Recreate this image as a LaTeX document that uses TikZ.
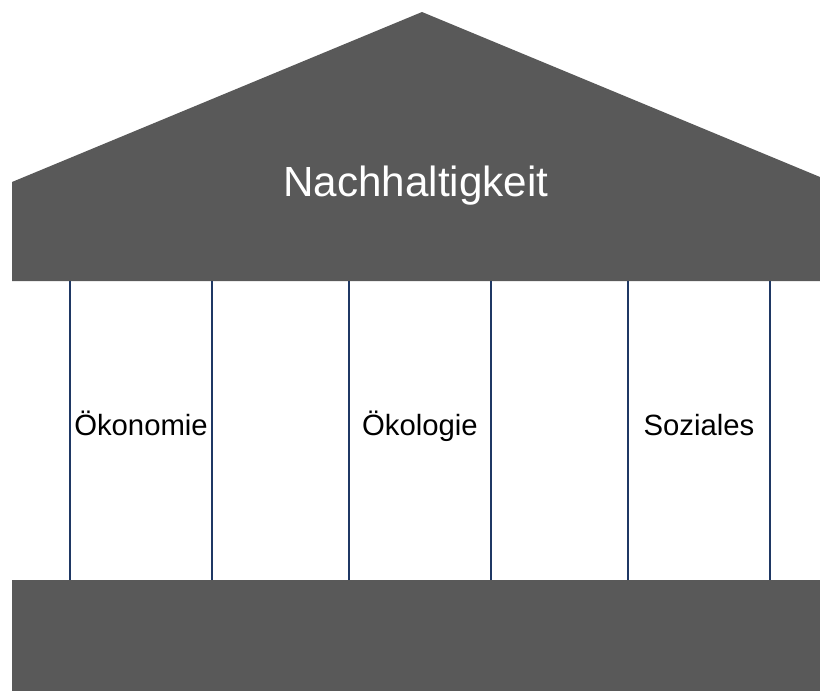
\documentclass[tikz,border=0pt]{standalone}
\usepackage{fontspec}
\setmainfont{Liberation Sans}
\usepackage{tikz}
\usetikzlibrary{calc,positioning}
\definecolor{roofgray}{HTML}{595959}
\definecolor{pillarblue}{HTML}{1F3864}
\tikzset{block/.style = {fill=roofgray, draw=none},
        pillar/.style = {rectangle, draw=none, inner sep=0pt,
                  minimum width=4.26cm, minimum height=8.97cm,
                  text height=1.05em, text depth=0.2em,
                  font=\fontsize{25}{29}\selectfont},
        pillarline/.style = {draw=pillarblue, line width=1.5pt}
    }

\begin{document}
\begin{tikzpicture}[x=0.03cm, y=-0.03cm]
          \tikzstyle{rooftext} = [white, anchor=base, inner sep=0pt, font=\fontsize{36}{42}\selectfont]
          \useasboundingbox (0,0) rectangle (820,691);

          % roof and beam
          \fill[block] (12,182) -- (422,12) -- (820,177) -- (820,281) -- (12,281) -- cycle;
          \node[rooftext] (roof) at (416,196) {Nachhaltigkeit};

          % pillars
          \foreach \name/\x/\txt in {oekonomie/141/Ökonomie, oekologie/420/Ökologie, soziales/699/Soziales} {
            \node[pillar] (\name) at (\x,430.5) {\txt};
          }
          \foreach \name in {oekonomie, oekologie, soziales} {
            \draw[pillarline] (\name.north west) -- (\name.south west);
            \draw[pillarline] (\name.north east) -- (\name.south east);
          }

          % base
          \fill[block] (12,580) rectangle (820,691);
        \end{tikzpicture}
\end{document}
